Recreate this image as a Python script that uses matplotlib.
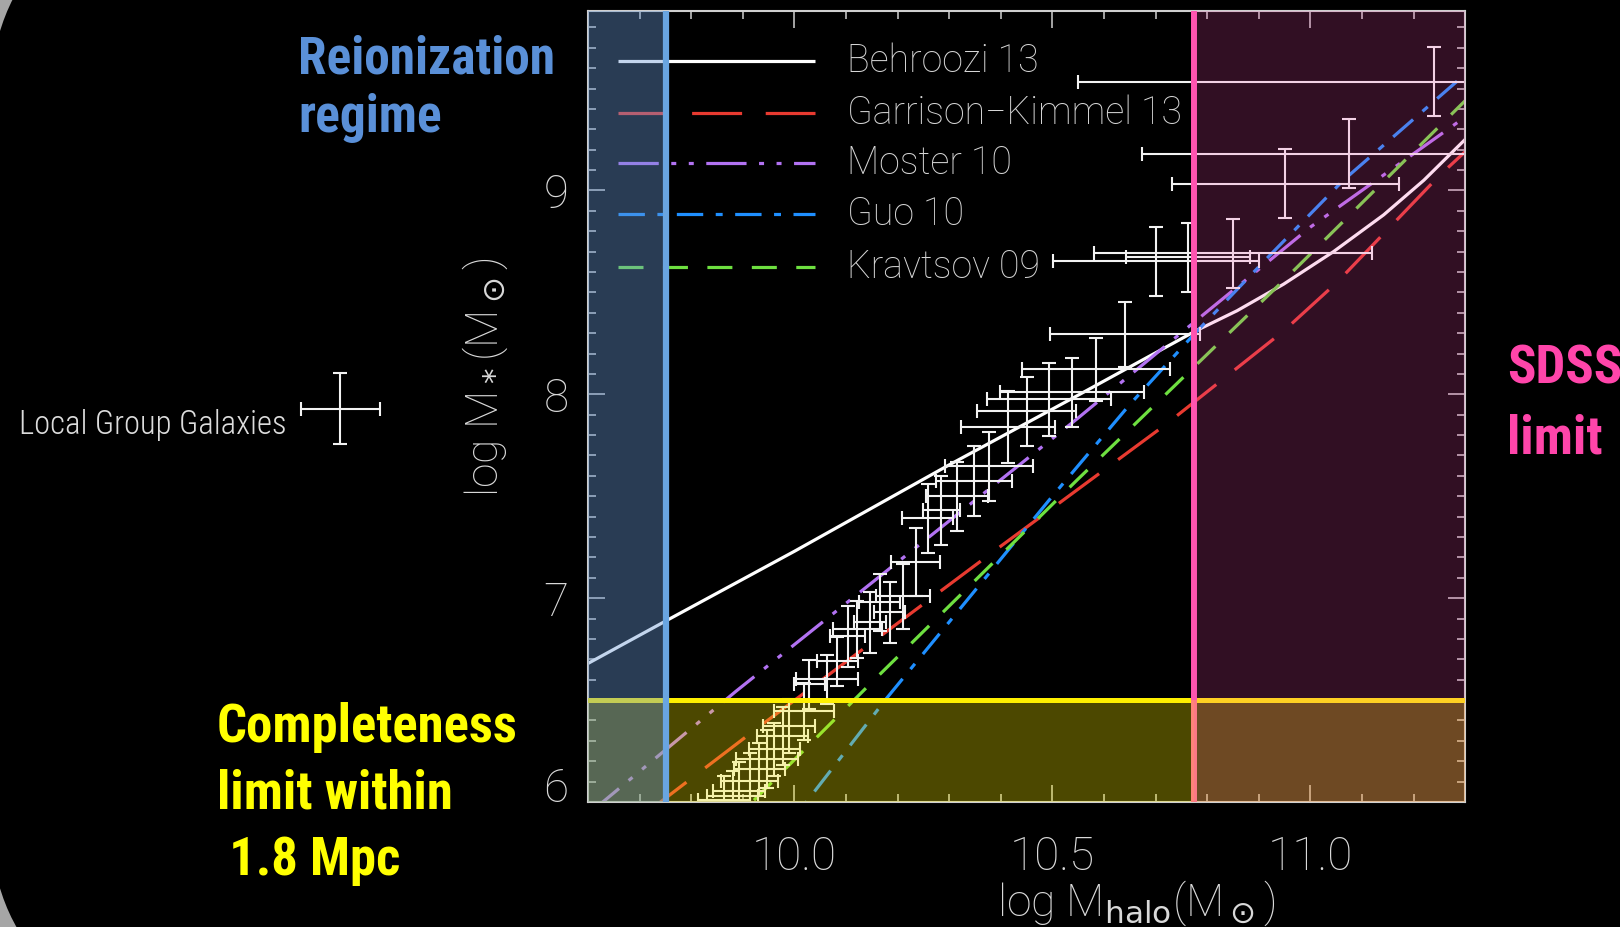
import matplotlib
matplotlib.use('Agg')
import matplotlib.pyplot as plt
from matplotlib.patches import FancyBboxPatch
from matplotlib.ticker import MultipleLocator

plt.rcParams['font.family'] = ['Roboto', 'DejaVu Sans']
plt.rcParams['lines.scale_dashes'] = False

# stellar-to-halo mass relations, log M_halo vs log M_star
behroozi_x = [9.6, 9.757, 10.0, 10.295, 10.553, 10.777, 10.858, 10.948, 11.045, 11.142, 11.22, 11.3]
behroozi_y = [6.68, 6.897, 7.23, 7.647, 8.0, 8.31, 8.41, 8.54, 8.70, 8.88, 9.05, 9.25]

gk_x = [9.6, 9.761, 9.932, 10.384, 10.724, 10.948, 11.052, 11.249, 11.3]
gk_y = [5.73, 6.04, 6.37, 7.225, 7.86, 8.31, 8.55, 9.07, 9.19]

moster_x = [9.6, 9.887, 10.256, 10.548, 10.773, 11.0, 11.3]
moster_y = [5.94, 6.544, 7.29, 7.88, 8.35, 8.82, 9.36]

guo_x = [9.9, 10.023, 10.179, 10.495, 10.65, 10.773, 10.917, 11.064, 11.3]
guo_y = [5.6, 6.0, 6.51, 7.485, 7.95, 8.29, 8.67, 9.05, 9.57]

kravtsov_x = [9.8, 9.918, 10.151, 10.548, 10.961, 11.3]
kravtsov_y = [5.7, 6.0, 6.59, 7.58, 8.59, 9.44]

# Local Group galaxies (abundance matched)
lg_mhalo = [11.239, 11.074, 10.951, 10.850, 10.701, 10.763, 10.641, 10.584, 10.538, 10.493,
            10.450, 10.414, 10.377, 10.348, 10.315, 10.285, 10.258, 10.235, 10.210, 10.185,
            10.165, 10.146, 10.122, 10.103, 10.083, 10.064, 10.029, 10.019, 9.990, 9.977,
            9.961, 9.946, 9.932, 9.913, 9.893, 9.880, 9.864]
lg_mstar = [9.534, 9.181, 9.034, 8.691, 8.652, 8.672, 8.294, 8.123, 8.010, 7.975,
            7.917, 7.838, 7.647, 7.574, 7.500, 7.431, 7.392, 7.176, 7.010, 6.930,
            6.980, 6.882, 6.848, 6.814, 6.691, 6.603, 6.578, 6.446, 6.373, 6.324,
            6.260, 6.211, 6.162, 6.103, 6.054, 6.030, 6.010]
lg_xerr = [0.69, 0.40, 0.22, 0.27, 0.20, 0.12, 0.146, 0.143, 0.14, 0.12,
           0.096, 0.092, 0.085, 0.073, 0.06, 0.035, 0.05, 0.047, 0.052, 0.03,
           0.04, 0.031, 0.048, 0.034, 0.04, 0.06, 0.03, 0.058, 0.05, 0.05,
           0.05, 0.06, 0.05, 0.055, 0.05, 0.05, 0.05]
lg_yerr = [0.17, 0.17, 0.17, 0.17, 0.17, 0.17, 0.16, 0.155, 0.17, 0.18,
           0.17, 0.176, 0.17, 0.17, 0.17, 0.17, 0.17, 0.167, 0.16, 0.15,
           0.14, 0.15, 0.14, 0.15, 0.12, 0.12, 0.12, 0.14, 0.13, 0.14,
           0.13, 0.14, 0.13, 0.14, 0.14, 0.12, 0.12]

reion_limit = 9.751
sdss_limit = 10.775
complete_limit = 6.5

series = [
    ('Behroozi 13', behroozi_x, behroozi_y, '#ffffff', None),
    ('Garrison\u2212Kimmel 13', gk_x, gk_y, '#e83a30', (36, 17)),
    ('Moster 10', moster_x, moster_y, '#b272f2', (29, 9, 3.6, 9, 3.6, 9)),
    ('Guo 10', guo_x, guo_y, '#1f8fff', (19, 9, 5, 9)),
    ('Kravtsov 09', kravtsov_x, kravtsov_y, '#6ee040', (18, 14)),
]

fig = plt.figure(figsize=(16.2, 9.27), dpi=100, facecolor='#a6a6a6')
# black slide panel with rounded corners
fig.add_artist(FancyBboxPatch((-0.115, -0.857), 20, 11.06,
                              boxstyle='round,pad=0,rounding_size=2.115',
                              transform=fig.dpi_scale_trans, facecolor='black',
                              edgecolor='none', zorder=-10))

ax = fig.add_axes([0.3630, 0.1348, 0.5414, 0.8533], facecolor='black')

legend_y = [0.9368, 0.8710, 0.8078, 0.7434, 0.6764]
for (label, xs, ys, color, dashes), ly in zip(series, legend_y):
    kw = dict(color=color, lw=2.3, solid_capstyle='butt', dash_capstyle='butt')
    if dashes is not None:
        kw['dashes'] = dashes
    ax.plot(xs, ys, zorder=2, **kw)
    ax.plot([0.034, 0.259], [ly, ly], transform=ax.transAxes, zorder=2, **kw)
    ax.text(0.2953, ly, label, transform=ax.transAxes, va='center', ha='left',
            fontsize=27, color='#d6d6d6', fontweight='light', zorder=2)

eb = ax.errorbar(lg_mhalo, lg_mstar, xerr=lg_xerr, yerr=lg_yerr, fmt='none',
                 ecolor='#f2f2f2', elinewidth=1.5, capsize=5, capthick=1.5, zorder=2.5)

hand = ['Roboto Condensed', 'Roboto']

# key for the error bars, drawn left of the axes
key = ax.errorbar([9.12], [7.93], xerr=[0.077], yerr=[0.176], fmt='none',
                  ecolor='#f2f2f2', elinewidth=1.5, capsize=5, capthick=1.5)
for art in key.get_children():
    art.set_clip_on(False)
fig.text(19 / 1620, 1 - 434 / 927, 'Local Group Galaxies', fontsize=23.5, color='#dcdcdc',
         family=hand, fontweight='light', va='baseline', ha='left')

# limits and shaded regimes
ax.axhline(complete_limit, color='#fff000', lw=3.6, zorder=3)
ax.axvline(sdss_limit, color='#ff55b0', lw=4.3, zorder=3.2)
ax.axhspan(6.0, complete_limit, color='#fff000', alpha=0.3, lw=0, zorder=4)
ax.axvspan(9.6, reion_limit, color='#6998d4', alpha=0.4, lw=0, zorder=5)
ax.axvspan(sdss_limit, 11.3, color='#fa50b4', alpha=0.2, lw=0, zorder=5)
ax.axvline(reion_limit, color='#69a5e1', lw=4.5, zorder=6)

ax.set_xlim(9.6, 11.3)
ax.set_ylim(6.0, 9.88)
ax.set_xticks([10.0, 10.5, 11.0], ['10.0', '10.5', '11.0'])
ax.set_yticks([6, 7, 8, 9], ['6', '7', '8', '9'])
ax.xaxis.set_minor_locator(MultipleLocator(0.1))
ax.yaxis.set_minor_locator(MultipleLocator(0.1))
ax.tick_params(which='both', direction='in', top=True, right=True, color='#d0d0d0', width=1.1)
ax.tick_params(which='major', length=12, labelsize=33, labelcolor='#d9d9d9')
ax.tick_params(which='minor', length=6)
ax.tick_params(axis='x', pad=24)
ax.tick_params(axis='y', pad=14)
for lab in ax.get_xticklabels() + ax.get_yticklabels():
    lab.set_fontweight('light')
ax.get_yticklabels()[0].set_va('baseline')
for sp in ax.spines.values():
    sp.set_color('#cfcfcf')
    sp.set_linewidth(1.5)

fig.text(485 / 1620, 1 - 377 / 927, r'log M$_*$(M$_\odot$)', rotation=90, ha='center',
         va='center', fontsize=32, color='#d9d9d9', fontweight='light')
fig.text(1136 / 1620, 1 - 903 / 927, r'log M$_{\rm halo}$(M$_\odot$)', ha='center',
         va='center', fontsize=32, color='#d9d9d9', fontweight='light')

fig.text(298 / 1620, 1 - 34 / 927, 'Reionization\nregime', color='#5a90d8', fontsize=37,
         fontweight='bold', family=hand, va='top', ha='left', linespacing=1.24)
fig.text(217 / 1620, 1 - 702 / 927, 'Completeness\nlimit within\n 1.8 Mpc', color='#ffff00',
         fontsize=38, fontweight='bold', family=hand, va='top', ha='left', linespacing=1.39)
fig.text(1507 / 1620, 1 - 343 / 927, 'SDSS\nlimit', color='#ff45aa', fontsize=38,
         fontweight='bold', family=hand, va='top', ha='left', linespacing=1.48)

fig.savefig('out.png', dpi=100, facecolor=fig.get_facecolor())
